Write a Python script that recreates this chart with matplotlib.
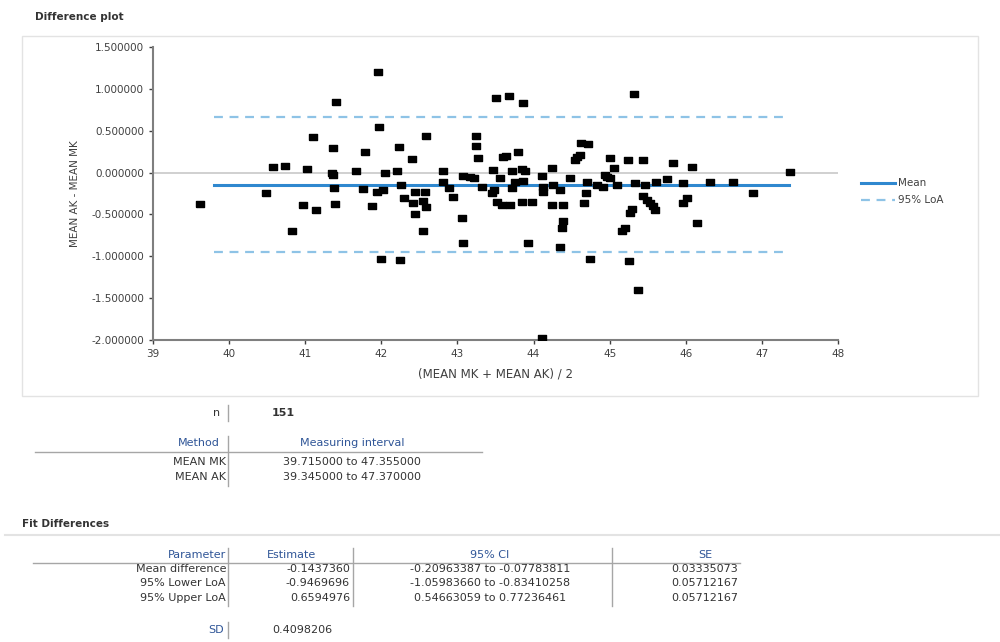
import numpy as np
import matplotlib.pyplot as plt
from matplotlib.patches import Rectangle
from matplotlib.lines import Line2D

plt.rcParams['font.family'] = ['DejaVu Sans']

# 数据
avg_x = [39.62, 40.48, 40.58, 40.73, 41.02, 40.83, 40.97, 41.14, 41.10, 41.37,
         41.40, 41.35, 41.37, 41.38, 41.39, 41.96, 41.97, 41.79, 41.67, 41.76,
         41.88, 41.94, 42.02, 42.05, 42.20, 42.23, 42.26, 42.30, 42.40, 42.44,
         42.57, 42.42, 42.55, 42.59, 42.44, 42.59, 42.55, 41.99, 42.25, 42.81,
         42.81, 42.89, 42.94, 43.06, 43.07, 43.07, 43.16, 43.22, 43.24, 43.24,
         43.27, 43.32, 43.45, 43.48, 43.51, 43.68, 43.86, 43.47, 43.56, 43.60,
         43.64, 43.80, 43.52, 43.59, 43.69, 43.72, 43.72, 43.85, 43.89, 43.76,
         43.85, 43.86, 43.93, 44.11, 44.12, 44.12, 44.24, 44.26, 44.35, 43.98,
         44.24, 44.39, 44.39, 44.37, 44.35, 44.48, 44.55, 44.57, 44.61, 44.62,
         44.72, 44.66, 44.69, 44.70, 44.74, 44.83, 44.91, 44.94, 44.97, 45.01,
         45.00, 45.06, 45.10, 45.16, 45.20, 45.24, 45.27, 45.29, 45.32, 45.25,
         45.33, 45.44, 45.46, 45.44, 45.49, 45.53, 45.57, 45.60, 45.61, 45.75,
         45.83, 45.96, 45.96, 46.01, 46.08, 46.15, 46.32, 47.37, 46.62, 46.88,
         45.37, 44.11]
diff_y = [-0.375, -0.25, 0.07, 0.08, 0.04, -0.70, -0.385, -0.445, 0.425, 0.295,
          0.84, 0.0, -0.03, -0.18, -0.37, 1.20, 0.545, 0.245, 0.02, -0.195,
          -0.40, -0.23, -0.21, 0.0, 0.02, 0.305, -0.15, -0.30, 0.16, -0.23,
          -0.23, -0.36, -0.34, -0.41, -0.49, 0.44, -0.70, -1.03, -1.04, 0.02,
          -0.11, -0.18, -0.29, -0.54, -0.84, -0.04, -0.05, -0.06, 0.44, 0.32,
          0.17, -0.17, -0.24, -0.21, 0.89, 0.915, 0.83, 0.03, -0.06, 0.185,
          0.20, 0.245, -0.35, -0.385, -0.385, 0.02, -0.18, 0.04, 0.02, -0.11,
          -0.35, -0.10, -0.84, -0.04, -0.17, -0.23, 0.05, -0.15, -0.21, -0.35,
          -0.39, -0.39, -0.58, -0.66, -0.89, -0.06, 0.15, 0.185, 0.21, 0.35,
          0.34, -0.36, -0.25, -0.11, -1.03, -0.15, -0.17, -0.03, -0.05, -0.06,
          0.17, 0.06, -0.15, -0.70, -0.66, 0.15, -0.48, -0.435, 0.94, -1.06,
          -0.12, 0.15, -0.15, -0.28, -0.33, -0.36, -0.40, -0.445, -0.11, -0.08,
          0.11, -0.12, -0.36, -0.30, 0.07, -0.60, -0.11, 0.01, -0.11, -0.25,
          -1.40, -1.98]

mean_diff = -0.1437360
lower_loa = -0.9469696
upper_loa = 0.6594976
line_span = [39.8, 47.35]

x_ticks = [39, 40, 41, 42, 43, 44, 45, 46, 47, 48]
y_ticks = [-2.0, -1.5, -1.0, -0.5, 0.0, 0.5, 1.0, 1.5]

n_obs = '151'
methods = ['MEAN MK', 'MEAN AK']
intervals = ['39.715000 to 47.355000', '39.345000 to 47.370000']

params = ['Mean difference', '95% Lower LoA', '95% Upper LoA']
estimates = ['-0.1437360', '-0.9469696', '0.6594976']
ci_texts = ['-0.20963387 to -0.07783811', '-1.05983660 to -0.83410258', '0.54663059 to 0.77236461']
se_texts = ['0.03335073', '0.05712167', '0.05712167']
sd_text = '0.4098206'

W, H = 1000, 642
fig = plt.figure(figsize=(W / 100, H / 100), dpi=100)
FS = 8


def fx(px):
    return px / W


def fy(py):
    return 1 - py / H


def txt(px, py, s, **kw):
    kw.setdefault('fontsize', FS)
    kw.setdefault('va', 'center')
    fig.text(fx(px), fy(py), s, **kw)


def hline(x0, x1, py, color='#a6a6a6', lw=1.0):
    fig.add_artist(Line2D([fx(x0), fx(x1)], [fy(py), fy(py)], color=color, lw=lw,
                          transform=fig.transFigure))


def vline(px, y0, y1, color='#a6a6a6', lw=1.0):
    fig.add_artist(Line2D([fx(px), fx(px)], [fy(y0), fy(y1)], color=color, lw=lw,
                          transform=fig.transFigure))


# 图表外框
fig.add_artist(Rectangle((fx(22), fy(396)), fx(978) - fx(22), fy(36) - fy(396),
                         transform=fig.transFigure, fill=False, ec='#e3e3e3', lw=1))

txt(35, 17, 'Difference plot', fontsize=7.5, fontweight='bold', color='#333333')

# 稍宽的矩形标记
wide_square = [(-1.25, -1), (1.25, -1), (1.25, 1), (-1.25, 1), (-1.25, -1)]

ax = fig.add_axes([fx(153), fy(340), fx(838) - fx(153), fy(47) - fy(340)])
ax.axhline(0, color='#c8c8c8', lw=1.2, zorder=1)
ax.scatter(avg_x, diff_y, marker=wide_square, s=30, color='black', zorder=3)
ax.plot(line_span, [mean_diff, mean_diff], color='#2f88cf', lw=2.2, zorder=2, label='Mean')
ax.plot(line_span, [upper_loa, upper_loa], color='#8ec3e6', lw=1.6, ls=(0, (4, 3)), zorder=2,
        label='95% LoA')
ax.plot(line_span, [lower_loa, lower_loa], color='#8ec3e6', lw=1.6, ls=(0, (4, 3)), zorder=2)

ax.set_xlim(39, 48)
ax.set_ylim(-2.0, 1.5)
ax.set_xticks(x_ticks)
ax.set_yticks(y_ticks)
ax.set_yticklabels([f'{v:.6f}' for v in y_ticks])
ax.tick_params(labelsize=7.5, colors='#404040', length=3, width=1)
for side in ['top', 'right']:
    ax.spines[side].set_visible(False)
for side in ['left', 'bottom']:
    ax.spines[side].set_color('#7f7f7f')
    ax.spines[side].set_linewidth(1.5)
ax.set_xlabel('(MEAN MK + MEAN AK) / 2', fontsize=8.5, color='#404040', labelpad=6)
ax.set_ylabel('MEAN AK - MEAN MK', fontsize=7.5, color='#404040', labelpad=8)
ax.legend(loc='upper left', bbox_to_anchor=(fx(857), fy(174)), bbox_transform=fig.transFigure,
          frameon=False, fontsize=7.5, handlelength=3.2, handletextpad=0.3, labelcolor='#404040',
          borderaxespad=0, labelspacing=0.7)

# n 与测量区间表
blue = '#2f5597'
txt(220, 413, 'n', ha='right', color='#333333')
vline(228, 405, 421)
txt(283, 413, n_obs, ha='center', color='#333333', fontweight='bold')
txt(220, 443, 'Method', ha='right', color=blue)
txt(352, 443, 'Measuring interval', ha='center', color=blue)
hline(35, 482, 452)
vline(228, 436, 486)
for i, (m, iv) in enumerate(zip(methods, intervals)):
    yy = 462 + i * 15
    txt(226, yy, m, ha='right', color='#333333')
    txt(352, yy, iv, ha='center', color='#333333')

# 拟合差异表
txt(22, 524, 'Fit Differences', fontsize=7.5, fontweight='bold', color='#333333')
hline(5, 1000, 535, color='#e3e3e3', lw=1.5)
txt(226, 555, 'Parameter', ha='right', color=blue)
txt(291, 555, 'Estimate', ha='center', color=blue)
txt(490, 555, '95% CI', ha='center', color=blue)
txt(705, 555, 'SE', ha='center', color=blue)
hline(33, 740, 563)
vline(228, 548, 606)
vline(353, 548, 606)
vline(612, 548, 606)
for i in range(len(params)):
    yy = 569 + i * 14.5
    txt(226, yy, params[i], ha='right', color='#333333')
    txt(350, yy, estimates[i], ha='right', color='#333333')
    txt(490, yy, ci_texts[i], ha='center', color='#333333')
    txt(705, yy, se_texts[i], ha='center', color='#333333')
txt(224, 630, 'SD', ha='right', color=blue)
vline(228, 622, 638)
txt(272, 630, sd_text, ha='left', color='#333333')

fig.savefig('out.png', dpi=100)
